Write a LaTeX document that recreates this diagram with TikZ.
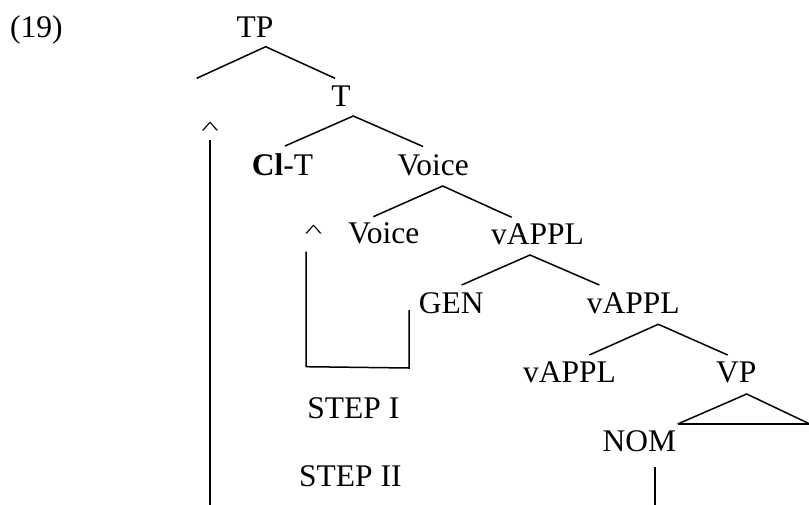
\documentclass[tikz,border=0pt]{standalone}
\usepackage{fontspec}
\setmainfont{Liberation Serif}
\begin{document}
\begin{tikzpicture}[x=1pt,y=-1pt,
  lab/.style={inner sep=0pt, anchor=base, font=\fontsize{31.5}{36}\selectfont},
  caretlab/.style={inner sep=0pt, anchor=center, font=\fontsize{31}{36}\selectfont},
  br/.style={line width=1.5pt}]
\useasboundingbox (0,0) rectangle (809,504);
% labels
\node[lab, anchor=base west] (ex) at (10,37) {(19)};
\node[lab] (TP) at (255,37) {TP};
\node[lab] (T) at (341,106) {T};
\node[lab] (ClT) at (282.5,175) {\textbf{Cl}-T};
\node[lab] (Voice1) at (433.3,175) {Voice};
\node[lab] (Voice2) at (383.7,243.3) {Voice};
\node[lab] (vA1) at (537.5,244) {vAPPL};
\node[lab] (GEN) at (451.3,313.3) {GEN};
\node[lab] (vA2) at (633.3,313.3) {vAPPL};
\node[lab] (vA3) at (569.5,382.7) {vAPPL};
\node[lab] (VP) at (736.2,382.7) {VP};
\node[lab] (NOM) at (639.3,451.7) {NOM};
\node[lab] (step1) at (353.3,418.3) {STEP I};
\node[lab] (step2) at (350.3,486) {STEP II};
\node[caretlab] (ca1) at (210,128) {\scalebox{1.2}[0.6]{\textasciicircum}};
\node[caretlab] (ca2) at (313.7,231) {\scalebox{1.2}[0.6]{\textasciicircum}};
% branch points
\coordinate (TPa) at (265.7,46.7);
\coordinate (TPl) at (196.7,78.3);
\coordinate (TPr) at (335,78.3);
\coordinate (Ta) at (353.3,116);
\coordinate (Tl) at (285,146);
\coordinate (Tr) at (423,146.5);
\coordinate (Va) at (442.7,186);
\coordinate (Vl) at (373.3,216.7);
\coordinate (Vr) at (511.7,217.3);
\coordinate (Aa) at (530,255);
\coordinate (Al) at (461.7,285);
\coordinate (Ar) at (599.3,285);
\coordinate (Ba) at (658.3,324.3);
\coordinate (Bl) at (589.3,355);
\coordinate (Br) at (727.7,355);
\coordinate (Pa) at (746.7,394);
\coordinate (Pl) at (677.7,424);
\coordinate (Pr) at (813,425.5);
\coordinate (Pe) at (813,424);
% movement lines
\coordinate (L1t) at (210,140);
\coordinate (L1b) at (210,505);
\coordinate (L2t) at (306,251.7);
\coordinate (L2c) at (306,366.7);
\coordinate (L2d) at (409,368);
\coordinate (L2e) at (409,310);
\coordinate (L3t) at (655,466.7);
\coordinate (L3b) at (655,505);
% tree
\draw[br] (TPl) -- (TPa) -- (TPr);
\draw[br] (Tl) -- (Ta) -- (Tr);
\draw[br] (Vl) -- (Va) -- (Vr);
\draw[br] (Al) -- (Aa) -- (Ar);
\draw[br] (Bl) -- (Ba) -- (Br);
\draw[br] (Pl) -- (Pa) -- (Pr);
\draw[br] (Pl) -- (Pe);
% movement
\draw[br] (L1t) -- (L1b);
\draw[br] (L2t) -- (L2c) -- (L2d) -- (L2e);
\draw[br] (L3t) -- (L3b);
\end{tikzpicture}
\end{document}
